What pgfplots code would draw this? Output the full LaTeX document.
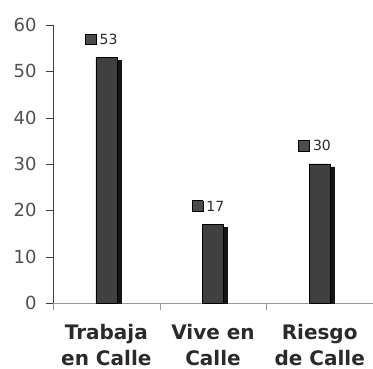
\documentclass[border=0pt]{standalone}
\usepackage{pgfplots}
\pgfplotsset{compat=1.18}
\usepackage{fontspec}
\setmainfont{DejaVu Sans}
\definecolor{barfront}{HTML}{404040}
\definecolor{barside}{HTML}{141414}
\definecolor{ticktext}{HTML}{505050}
\definecolor{cattext}{HTML}{2A2A2A}
\begin{document}
\begin{tikzpicture}
\begin{axis}[
  scale only axis,
  width=320pt, height=278pt,
  xmin=0.5, xmax=3.5,
  ymin=0, ymax=60,
  axis y line=left, axis x line=bottom,
  axis line style={-},
  y axis line style={draw=black!75},
  x axis line style={draw=black!40},
  ytick={0,10,...,60},
  xtick={0.5,1.5,2.5,3.5},
  x tick label as interval=true,
  xticklabels={{Trabaja\\en Calle},{Vive en\\Calle},{Riesgo\\de Calle}},
  xticklabel style={align=center, font=\bfseries\fontsize{20}{26}\selectfont, text=cattext, yshift=-11pt},
  yticklabel style={font=\fontsize{18}{18}\selectfont, text=ticktext, xshift=-6pt},
  /pgf/number format/assume math mode=true,
  tick align=outside,
  major tick length=7pt,
  ytick style={draw=black!75},
  xtick style={draw=black!40},
  ybar, bar width=21pt,
  clip=false,
]
\addplot[fill=barside, draw=barside, bar shift=4pt] coordinates {(1,52.4) (2,16.4) (3,29.4)};
\addplot[fill=barfront, draw=black, line width=0.5pt, bar shift=0pt,
  nodes near coords={\fboxsep=0pt\fboxrule=0.8pt\fcolorbox{black}{black!70}{\rule{0pt}{10pt}\rule{10pt}{0pt}}\hspace{3pt}\pgfmathprintnumber{\pgfplotspointmeta}},
  every node near coord/.append style={anchor=south, font=\fontsize{14}{14}\selectfont, text=cattext, xshift=-5pt, yshift=12pt, inner sep=0pt}
] coordinates {(1,53) (2,17) (3,30)};
\end{axis}
\pgfresetboundingbox
\useasboundingbox (-53pt,-66pt) rectangle (320pt,303pt);
\end{tikzpicture}
\end{document}
